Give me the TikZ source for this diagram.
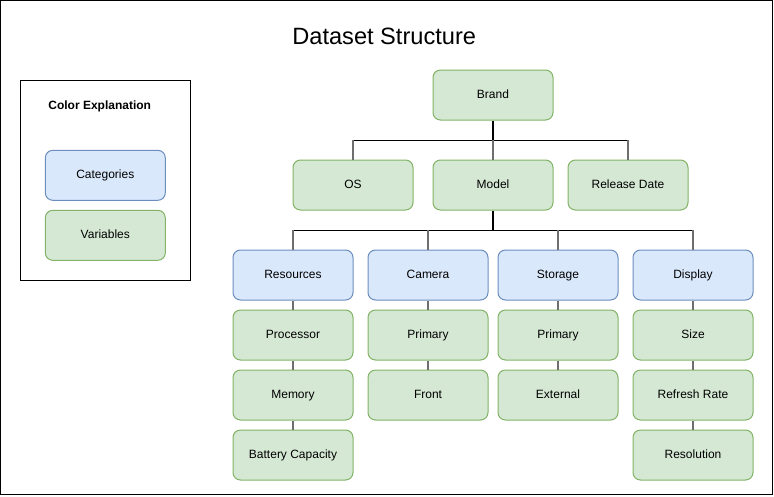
\documentclass[tikz,border=0pt]{standalone}
\usepackage{fontspec}
\setmainfont{Liberation Sans}
\definecolor{bluefill}{HTML}{DAE8FC}
\definecolor{bluedraw}{HTML}{6C8EBF}
\definecolor{greenfill}{HTML}{D5E8D4}
\definecolor{greendraw}{HTML}{82B366}
\definecolor{dropgray}{HTML}{6E6E6E}
\tikzset{
  box/.style={rounded corners=7.5pt, minimum width=120pt, minimum height=50pt, inner sep=0pt, font=\fontsize{12}{14}\selectfont, text height=9.6pt, text depth=2.4pt, line width=1pt},
  catbox/.style={box, fill=bluefill, draw=bluedraw},
  varbox/.style={box, fill=greenfill, draw=greendraw},
  trunk/.style={draw=black, line width=1.6pt},
  bar/.style={draw=black, line width=1pt},
  drop/.style={draw=dropgray, line width=1.6pt},
}
\begin{document}
\begin{tikzpicture}[x=1pt, y=-1pt]
\useasboundingbox (0,0) rectangle (774,496);
\draw[line width=1.2pt] (0.6,0.6) rectangle (772.6,494.6);
\node[font=\fontsize{23.6}{27}\selectfont] (title) at (384.2,36.5) {Dataset Structure};
% legend
\node[draw=black, line width=1pt, minimum width=170pt, minimum height=200pt, inner sep=0pt] (legend) at (105.3,180.3) {};
\node[font=\bfseries\fontsize{12}{14}\selectfont, text height=9.6pt, text depth=2.4pt] (legtitle) at (99.7,106) {Color Explanation};
\node[catbox] (cat) at (105.3,175.3) {Categories};
\node[varbox] (var) at (105.3,235.3) {Variables};
% tree
\node[varbox] (brand) at (493,95) {Brand};
\node[varbox] (os) at (353,185) {OS};
\node[varbox] (model) at (493,185) {Model};
\node[varbox] (rel) at (628,185) {Release Date};
\node[catbox] (res) at (293,275) {Resources};
\node[catbox] (cam) at (428,275) {Camera};
\node[catbox] (sto) at (558,275) {Storage};
\node[catbox] (dis) at (693,275) {Display};
\node[varbox] (proc) at (293,335) {Processor};
\node[varbox] (mem) at (293,395) {Memory};
\node[varbox] (bat) at (293,455) {Battery Capacity};
\node[varbox] (campri) at (428,335) {Primary};
\node[varbox] (front) at (428,395) {Front};
\node[varbox] (stopri) at (558,335) {Primary};
\node[varbox] (ext) at (558,395) {External};
\node[varbox] (size) at (693,335) {Size};
\node[varbox] (refresh) at (693,395) {Refresh Rate};
\node[varbox] (resol) at (693,455) {Resolution};
% connectors level 1
\coordinate (j1) at (brand.south |- 0,140.3);
\draw[trunk] (brand.south) -- (j1);
\draw[bar] (os.north |- j1) -- (rel.north |- j1);
\draw[drop] (os.north |- j1) -- (os.north);
\draw[drop] (j1) -- (model.north);
\draw[drop] (rel.north |- j1) -- (rel.north);
% connectors level 2
\coordinate (j2) at (model.south |- 0,230.3);
\draw[trunk] (model.south) -- (j2);
\draw[bar] (res.north |- j2) -- (dis.north |- j2);
\draw[drop] (res.north |- j2) -- (res.north);
\draw[drop] (cam.north |- j2) -- (cam.north);
\draw[drop] (sto.north |- j2) -- (sto.north);
\draw[drop] (dis.north |- j2) -- (dis.north);
% stacks
\draw[drop] (res.south) -- (proc.north);
\draw[drop] (proc.south) -- (mem.north);
\draw[drop] (mem.south) -- (bat.north);
\draw[drop] (cam.south) -- (campri.north);
\draw[drop] (campri.south) -- (front.north);
\draw[drop] (sto.south) -- (stopri.north);
\draw[drop] (stopri.south) -- (ext.north);
\draw[drop] (dis.south) -- (size.north);
\draw[drop] (size.south) -- (refresh.north);
\draw[drop] (refresh.south) -- (resol.north);
\end{tikzpicture}
\end{document}
